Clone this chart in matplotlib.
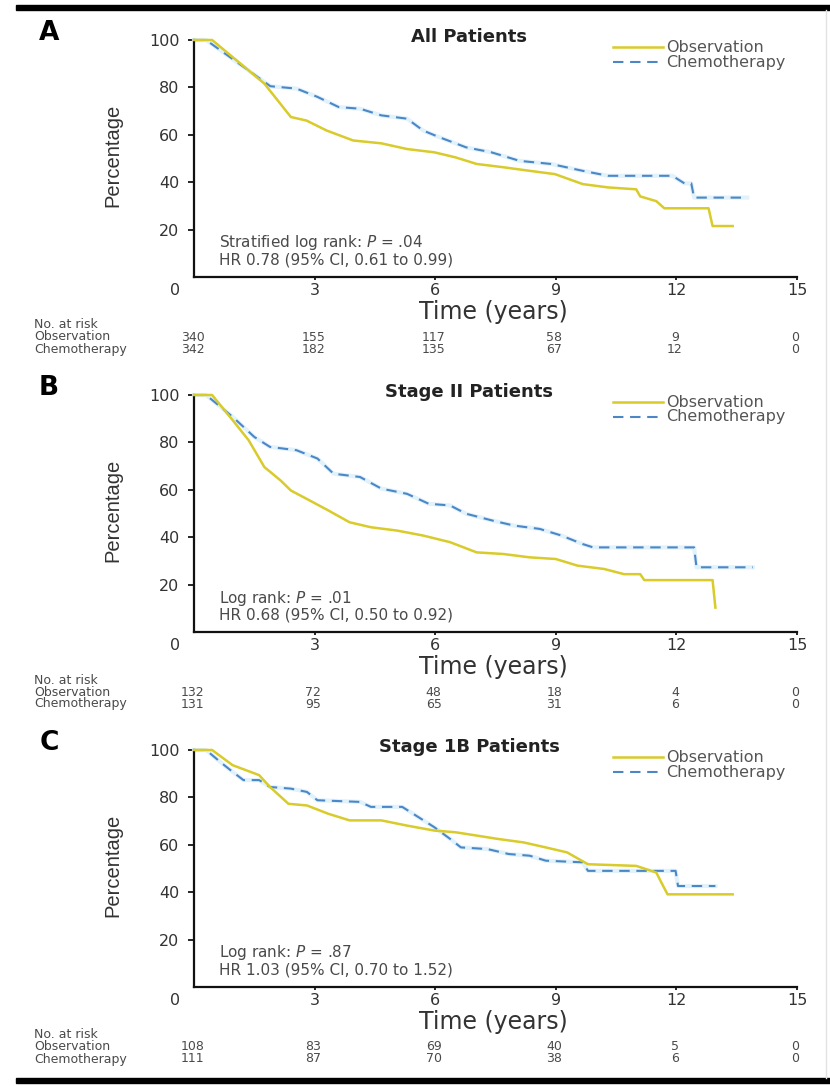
import numpy as np
import matplotlib
matplotlib.use('Agg')
import matplotlib.pyplot as plt
from matplotlib.patches import Rectangle
from matplotlib.lines import Line2D

W, H = 830, 1086

plt.rcParams['font.family'] = ['DejaVu Sans']
plt.rcParams['mathtext.fontset'] = 'dejavusans'

# ---- data (years, percent) ----
a_obs_t = [0, 0.45, 1.23, 1.75, 2.41, 2.8, 3.3, 3.96, 4.66, 5.3, 5.98, 6.5, 7.03, 7.7,
           8.35, 8.98, 9.67, 10.3, 11.0, 11.1, 11.5, 11.7, 12.8, 12.9, 13.4]
a_obs_s = [100, 100, 89, 81.6, 67.5, 66, 61.8, 57.6, 56.4, 54, 52.6, 50.5, 47.7, 46.3,
           44.8, 43.4, 39.2, 37.8, 37, 34, 32, 29, 29, 21.5, 21.5]
a_chemo_t = [0, 0.3, 1.23, 1.9, 2.55, 3.07, 3.6, 4.13, 4.66, 5.3, 5.7, 6.1, 6.77, 7.4,
             8.1, 8.88, 9.67, 10.3, 11.9, 12.2, 12.37, 12.44, 13.76]
a_chemo_s = [100, 100, 88.7, 80.5, 79.5, 76, 71.7, 71, 68.2, 66.8, 61.8, 59, 54.7, 52.6,
             49, 47.7, 44.8, 42.7, 42.7, 39.5, 39.5, 33.5, 33.5]

b_obs_t = [0, 0.45, 0.96, 1.36, 1.75, 2.15, 2.41, 2.8, 3.34, 3.87, 4.4, 5.05, 5.7, 6.37,
           7.03, 7.7, 8.35, 9.0, 9.54, 10.2, 10.7, 11.1, 11.2, 12.9, 12.97]
b_obs_s = [100, 100, 89.4, 80.9, 69.6, 64, 59.7, 56.2, 51.3, 46.3, 44.2, 42.8, 40.7, 37.9,
           33.6, 32.9, 31.5, 30.8, 28, 26.6, 24.4, 24.4, 21.9, 21.9, 10.3]
b_chemo_t = [0, 0.3, 0.96, 1.5, 1.89, 2.55, 3.07, 3.47, 4.13, 4.66, 5.3, 5.84, 6.37, 6.77,
             7.43, 7.96, 8.6, 9.14, 9.67, 9.93, 12.44, 12.5, 13.9]
b_chemo_s = [100, 100, 90.8, 82.3, 78.1, 76.7, 73.2, 66.8, 65.4, 60.5, 58.3, 54.1, 53.4, 49.9,
             47, 44.9, 43.5, 40.7, 37.1, 35.7, 35.7, 27.3, 27.3]

c_obs_t = [0, 0.45, 0.96, 1.62, 1.89, 2.35, 2.81, 3.34, 3.87, 4.66, 5.3, 5.98, 6.5, 7.03,
           7.55, 8.2, 8.75, 9.28, 9.8, 11.0, 11.5, 11.65, 11.78, 13.4]
c_obs_s = [100, 100, 93.6, 89.4, 84.4, 77.3, 76.6, 73.1, 70.3, 70.3, 68.1, 66, 65.3, 63.9,
           62.5, 61, 58.9, 56.8, 51.8, 51.1, 48.3, 43.3, 39.1, 39.1]
c_chemo_t = [0, 0.3, 0.7, 0.96, 1.23, 1.62, 1.89, 2.41, 2.81, 3.07, 4.13, 4.4, 5.18, 5.58,
             5.98, 6.37, 6.64, 7.3, 7.83, 8.35, 8.75, 9.67, 9.8, 11.98, 12.04, 12.97]
c_chemo_s = [100, 100, 94.3, 90.8, 87.3, 87.3, 84.4, 83.7, 82.3, 78.8, 78.1, 76, 76, 71.7,
             67.4, 62.5, 58.9, 58.2, 56.1, 55.4, 53.3, 52.6, 49, 49, 42.6, 42.6]

risk_times = [0, 3, 6, 9, 12, 15]
a_risk_obs = [340, 155, 117, 58, 9, 0]
a_risk_chemo = [342, 182, 135, 67, 12, 0]
b_risk_obs = [132, 72, 48, 18, 4, 0]
b_risk_chemo = [131, 95, 65, 31, 6, 0]
c_risk_obs = [108, 83, 69, 40, 5, 0]
c_risk_chemo = [111, 87, 70, 38, 6, 0]

letters = ['A', 'B', 'C']
titles = ['All Patients', 'Stage II Patients', 'Stage 1B Patients']
stats = [('Stratified log rank: $\\it{P}$ = .04', 'HR 0.78 (95% CI, 0.61 to 0.99)'),
         ('Log rank: $\\it{P}$ = .01', 'HR 0.68 (95% CI, 0.50 to 0.92)'),
         ('Log rank: $\\it{P}$ = .87', 'HR 1.03 (95% CI, 0.70 to 1.52)')]

OBS_C = '#d8cb2a'
CHEMO_C = '#4b87c7'
HALO_C = '#e1f2fb'
TXT = '#333333'
TXT2 = '#4a4a4a'

fig = plt.figure(figsize=(W / 100, H / 100), dpi=100)
fig.patch.set_facecolor('white')


def fx(px):
    return px / W


def fy(py):
    return 1 - py / H


def panel(top, letter, title, ot, os_, ct, cs, stat, r_obs, r_chemo):
    bottom = top + 237
    ax = fig.add_axes([fx(194), fy(bottom), 603 / W, 237 / H])
    ax.plot(ct, cs, color=HALO_C, lw=3.0, clip_on=False, zorder=2)
    ax.plot(ct, cs, color=CHEMO_C, lw=1.5, dashes=(5, 3.2), clip_on=False, zorder=3)
    ax.plot(ot, os_, color=OBS_C, lw=1.8, clip_on=False, zorder=4)
    ax.set_xlim(0, 15)
    ax.set_ylim(0, 100)
    ax.set_xticks([3, 6, 9, 12, 15])
    ax.set_yticks([20, 40, 60, 80, 100])
    for s in ['top', 'right']:
        ax.spines[s].set_visible(False)
    for s in ['left', 'bottom']:
        ax.spines[s].set_linewidth(1.6)
        ax.spines[s].set_color('#111111')
    ax.tick_params(axis='y', length=4.5, width=1.2, pad=6, labelsize=11.5, labelcolor=TXT)
    ax.tick_params(axis='x', length=2.5, width=1.2, pad=2, labelsize=11.5, labelcolor=TXT)
    ax.annotate('0', xy=(0, 0), xycoords='data', xytext=(-13.5, -9.6),
                textcoords='offset points', ha='center', va='center', fontsize=11.5, color=TXT)

    # at-risk numbers under each time point
    for t, n1, n2 in zip(risk_times, r_obs, r_chemo):
        ax.annotate(str(n1), xy=(t, 0), xycoords=('data', 'axes fraction'), xytext=(-1, -60 * 0.72),
                    textcoords='offset points', ha='center', va='center', fontsize=9, color=TXT2)
        ax.annotate(str(n2), xy=(t, 0), xycoords=('data', 'axes fraction'), xytext=(-1, -72 * 0.72),
                    textcoords='offset points', ha='center', va='center', fontsize=9, color=TXT2)

    fig.text(fx(34), fy(bottom + 48), 'No. at risk', fontsize=9, va='center', color=TXT2)
    fig.text(fx(34), fy(bottom + 60), 'Observation', fontsize=9, va='center', color=TXT2)
    fig.text(fx(34), fy(bottom + 72), 'Chemotherapy', fontsize=9, va='center', color=TXT2)

    fig.text(fx(493), fy(bottom + 35), 'Time (years)', fontsize=17, ha='center', va='center',
             color=TXT)
    fig.text(fx(113), fy(top + 115), 'Percentage', fontsize=14.5, rotation=90, ha='center',
             va='center', color=TXT, family=['Liberation Sans'])

    fig.text(fx(49), fy(top - 7), letter, fontsize=19, fontweight='bold', ha='center', va='center')
    fig.text(fx(469), fy(top - 3), title, fontsize=13, fontweight='bold', ha='center', va='center',
             color='#222222')

    # legend
    fig.add_artist(Line2D([fx(613), fx(663)], [fy(top + 7)] * 2, color=OBS_C, lw=1.8))
    fig.add_artist(Line2D([fx(613), fx(663)], [fy(top + 22)] * 2, color=CHEMO_C, lw=1.5,
                          dashes=(5, 3.2)))
    fig.text(fx(666), fy(top + 7), 'Observation', fontsize=11.5, va='center', color='#555555')
    fig.text(fx(666), fy(top + 22), 'Chemotherapy', fontsize=11.5, va='center', color='#555555')

    fig.text(fx(219), fy(top + 203), stat[0], fontsize=11, va='center', color=TXT2)
    fig.text(fx(219), fy(top + 220), stat[1], fontsize=11, va='center', color=TXT2)
    return ax


panel(40, letters[0], titles[0], a_obs_t, a_obs_s, a_chemo_t, a_chemo_s, stats[0], a_risk_obs, a_risk_chemo)
panel(395, letters[1], titles[1], b_obs_t, b_obs_s, b_chemo_t, b_chemo_s, stats[1], b_risk_obs, b_risk_chemo)
panel(750, letters[2], titles[2], c_obs_t, c_obs_s, c_chemo_t, c_chemo_s, stats[2], c_risk_obs, c_risk_chemo)

# black rules at top and bottom, faint frame line on the right
fig.add_artist(Rectangle((fx(16), fy(10)), 1 - fx(16), 5 / H, color='black', transform=fig.transFigure))
fig.add_artist(Rectangle((fx(16), fy(1083)), 1 - fx(16), 5 / H, color='black', transform=fig.transFigure))
fig.add_artist(Line2D([fx(826), fx(826)], [fy(10), fy(1078)], color='#e2e2e2', lw=1))

fig.savefig('out.png', dpi=100)
